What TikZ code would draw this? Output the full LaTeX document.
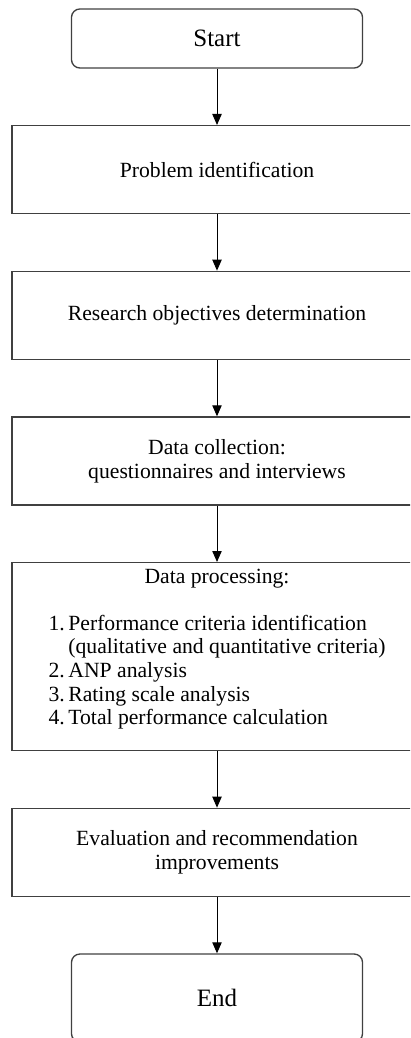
\documentclass[tikz,border=0pt]{standalone}
\usepackage{fontspec}
\setmainfont{Liberation Serif}
\usepackage{tikz}
\usetikzlibrary{arrows.meta, positioning}
\tikzset{
	startstop/.style={rectangle, rounded corners=5pt, minimum width=174.6pt, minimum height=35.4pt, text centered, align=center, draw=black!75, line width=0.8pt, font=\rmfamily\fontsize{15}{18}\selectfont},
	process/.style  ={rectangle, minimum width=246pt, minimum height=52.8pt, text centered, align=center, draw=black!75, line width=0.8pt, font=\rmfamily\fontsize{13}{14.2}\selectfont},
	flowarrow/.style={-{Triangle[length=6.6pt, width=5.6pt]}, line width=0.6pt},
}

\begin{document}
\begin{tikzpicture}[node distance=33.8pt]
	\useasboundingbox (0,0) rectangle (246pt,-622.8pt);
	\clip (0,0) rectangle (246pt,-622.8pt);
	% terminals and steps, top to bottom
	\node[startstop] (start) at (130.2pt,-23.1pt) {Start};
	\node[process, below=of start] (problem) {Problem identification};
	\node[process, below=of problem] (objectives) {Research objectives determination};
	\node[process, below=of objectives] (collection) {Data collection:\\ questionnaires and interviews};
	\node[process, below=of collection, minimum height=112.8pt] (processing) {%
		Data processing:\\[1.1em]
		\begin{tabular}{@{}r@{\,}l@{}}
			1. & Performance criteria identification\\
			   & (qualitative and quantitative criteria)\\
			2. & ANP analysis\\
			3. & Rating scale analysis\\
			4. & Total performance calculation
		\end{tabular}\\[0.5em]};
	\node[process, below=of processing] (evaluation) {Evaluation and recommendation\\ improvements};
	\node[startstop, below=of evaluation, minimum height=52.8pt] (finish) {End};
	% arrows
	\draw[flowarrow] (start) -- (problem);
	\draw[flowarrow] (problem) -- (objectives);
	\draw[flowarrow] (objectives) -- (collection);
	\draw[flowarrow] (collection) -- (processing);
	\draw[flowarrow] (processing) -- (evaluation);
	\draw[flowarrow] (evaluation) -- (finish);
\end{tikzpicture}
\end{document}
